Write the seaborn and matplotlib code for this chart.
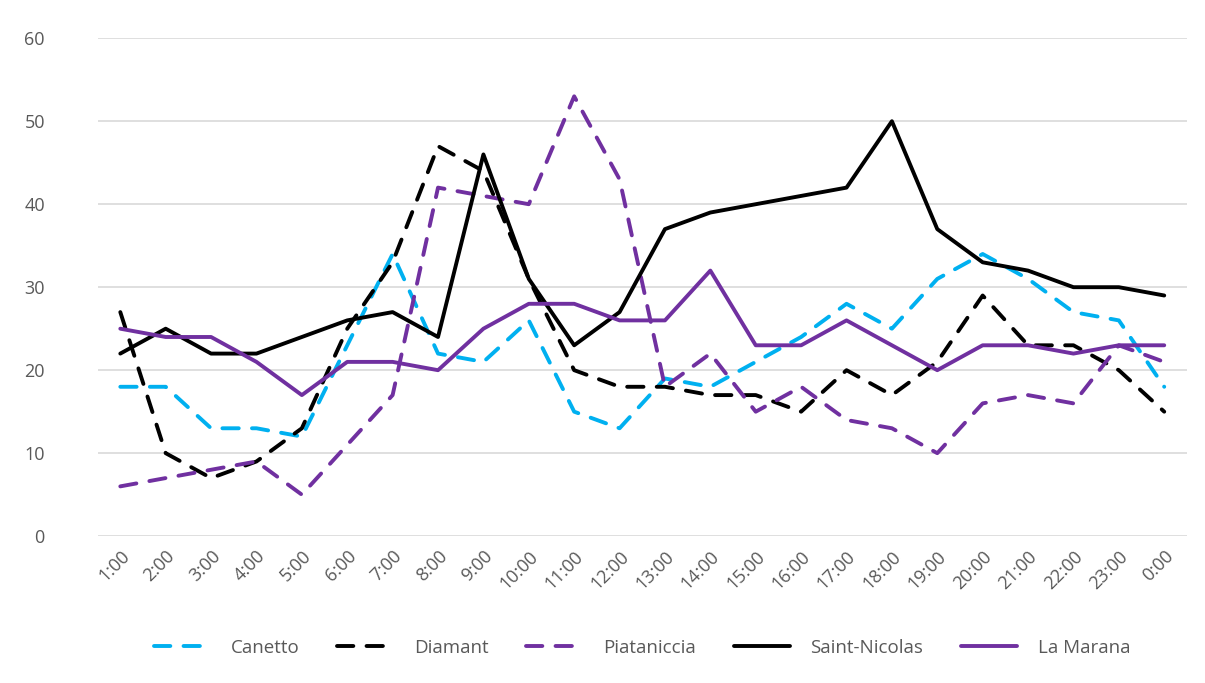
import pandas as pd
import matplotlib
matplotlib.use("Agg")
import matplotlib.pyplot as plt
import seaborn as sns

# heures
hours = ['1:00', '2:00', '3:00', '4:00', '5:00', '6:00', '7:00', '8:00', '9:00', '10:00',
         '11:00', '12:00', '13:00', '14:00', '15:00', '16:00', '17:00', '18:00', '19:00',
         '20:00', '21:00', '22:00', '23:00', '0:00']

canetto = [18, 18, 13, 13, 12, 23, 34, 22, 21, 26, 15, 13, 19, 18, 21, 24, 28, 25, 31, 34, 31, 27, 26, 18]
diamant = [27, 10, 7, 9, 13, 25, 33, 47, 44, 31, 20, 18, 18, 17, 17, 15, 20, 17, 21, 29, 23, 23, 20, 15]
piataniccia = [6, 7, 8, 9, 5, 11, 17, 42, 41, 40, 53, 43, 18, 22, 15, 18, 14, 13, 10, 16, 17, 16, 23, 21]
saint_nicolas = [22, 25, 22, 22, 24, 26, 27, 24, 46, 31, 23, 27, 37, 39, 40, 41, 42, 50, 37, 33, 32, 30, 30, 29]
la_marana = [25, 24, 24, 21, 17, 21, 21, 20, 25, 28, 28, 26, 26, 32, 23, 23, 26, 23, 20, 23, 23, 22, 23, 23]

series = {
    'Canetto': canetto,
    'Diamant': diamant,
    'Piataniccia': piataniccia,
    'Saint-Nicolas': saint_nicolas,
    'La Marana': la_marana,
}
colors = {'Canetto': '#00B0F0', 'Diamant': '#000000', 'Piataniccia': '#7030A0',
          'Saint-Nicolas': '#000000', 'La Marana': '#7030A0'}
dashed = {'Canetto': True, 'Diamant': True, 'Piataniccia': True,
          'Saint-Nicolas': False, 'La Marana': False}

sns.set_style("white")
plt.rcParams['font.family'] = ['Open Sans', 'DejaVu Sans']

fig = plt.figure(figsize=(12.05, 6.83), dpi=100)
ax = fig.add_axes([0.081, 0.215, 0.904, 0.729])

for name, vals in series.items():
    df = pd.DataFrame({'x': range(len(hours)), 'y': vals})
    line_kw = dict(color=colors[name], linewidth=2.8, label=name, ax=ax)
    if dashed[name]:
        sns.lineplot(data=df, x='x', y='y', dashes=False, linestyle=(0, (4.2, 3.4)),
                     dash_capstyle='round', **line_kw)
    else:
        sns.lineplot(data=df, x='x', y='y', **line_kw)

ax.set_xlim(-0.5, len(hours) - 0.5)
ax.set_ylim(0, 60)
ax.set_yticks(range(0, 61, 10))
ax.set_xticks(range(len(hours)))
ax.set_xticklabels(hours, rotation=45, ha='right', rotation_mode='anchor')
ax.set_xlabel('')
ax.set_ylabel('')
ax.grid(axis='y', color='#D9D9D9', linewidth=1.2)
ax.set_axisbelow(True)
for s in ax.spines.values():
    s.set_visible(False)
ax.tick_params(axis='both', length=0, labelsize=13, labelcolor='#595959')
ax.tick_params(axis='y', pad=38)
ax.tick_params(axis='x', pad=8)
for lab in ax.get_yticklabels():
    lab.set_horizontalalignment('right')

ax.legend(loc='upper center', bbox_to_anchor=(0.5, -0.172), ncol=5, frameon=False,
          fontsize=13.5, labelcolor='#595959', handlelength=3.0, columnspacing=2.0,
          handletextpad=1.1)

fig.savefig('out.png', dpi=100)
